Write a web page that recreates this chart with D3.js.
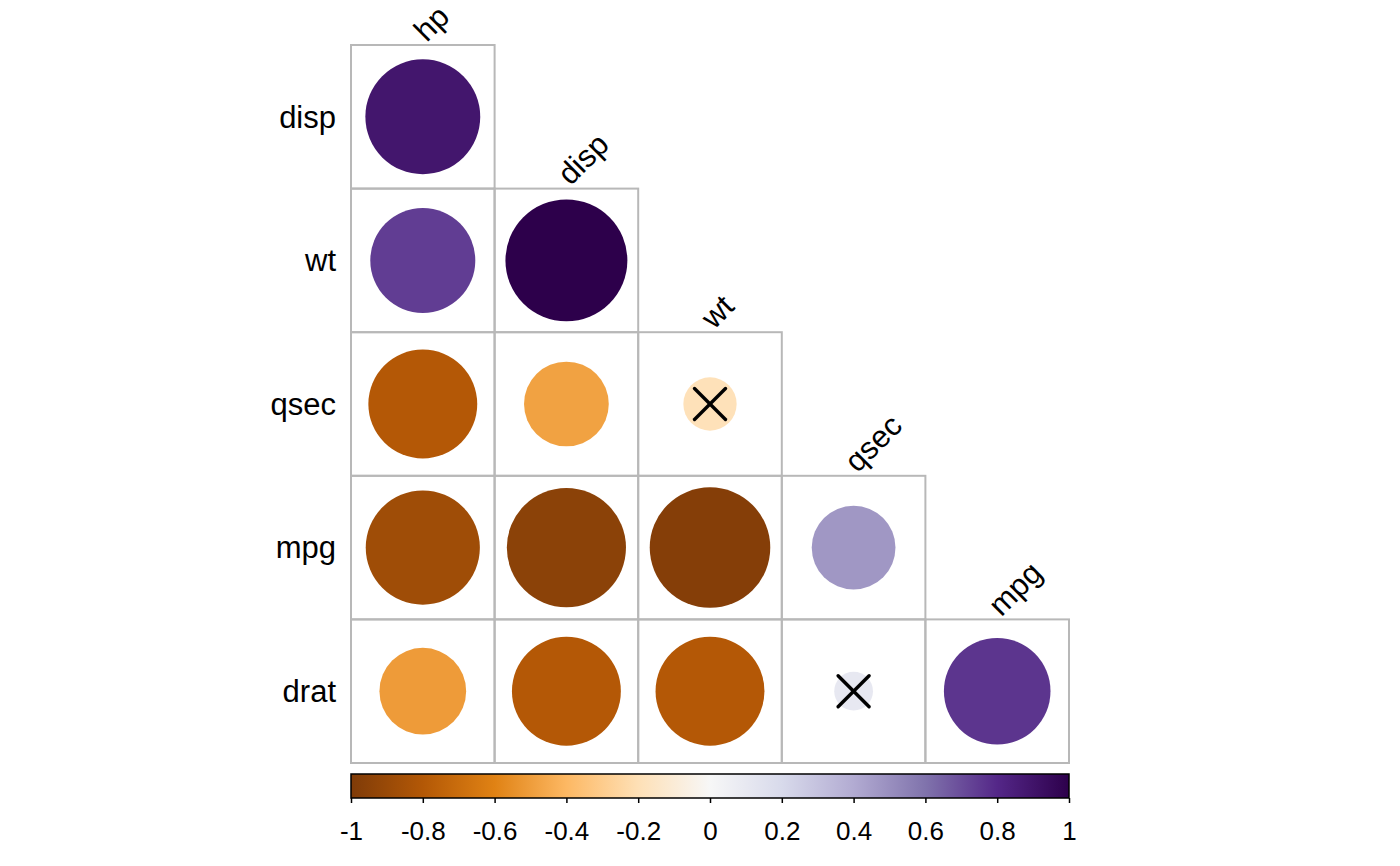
<!DOCTYPE html>
<html>
<head>
<meta charset="utf-8">
<script src="https://cdn.jsdelivr.net/npm/d3@7"></script>
<style>
  html, body { margin: 0; padding: 0; background: #fff; }
  svg { display: block; }
  text { font-family: "Liberation Sans", Arial, sans-serif; fill: #000; }
</style>
</head>
<body>
<svg id="chart" width="1400" height="866"></svg>
<script>
// ---- data ----
const rowVars = ["disp", "wt", "qsec", "mpg", "drat"];
const colVars = ["hp", "disp", "wt", "qsec", "mpg"];
// lower-triangle correlations, one list per row
const corrDisp = [0.79];
const corrWt   = [0.66, 0.89];
const corrQsec = [-0.71, -0.43, -0.17];
const corrMpg  = [-0.78, -0.85, -0.87, 0.42];
const corrDrat = [-0.45, -0.71, -0.71, 0.09, 0.68];
const corrRows = [corrDisp, corrWt, corrQsec, corrMpg, corrDrat];
// non-significant cells [row, col]
const insignificant = [["qsec", "wt"], ["drat", "qsec"]];
const legendTicks = [-1, -0.8, -0.6, -0.4, -0.2, 0, 0.2, 0.4, 0.6, 0.8, 1];
const paletteColors = ["#7F3B08", "#B35806", "#E08214", "#FDB863", "#FEE0B6", "#F7F7F7",
                       "#D8DAEB", "#B2ABD2", "#8073AC", "#542788", "#2D004B"];

// ---- layout ----
const svg = d3.select("#chart");
const gLeft = 351, gTop = 45, cell = 143.6;
const n = colVars.length;

const x = d3.scaleBand().domain(colVars).range([gLeft, gLeft + n * cell]);
const y = d3.scaleBand().domain(rowVars).range([gTop, gTop + n * cell]);
// fill colours are scaled to the largest absolute correlation
const maxAbs = d3.max(corrRows.flat(), v => Math.abs(v));
const color = d3.scaleLinear()
  .domain(legendTicks.map(t => t * maxAbs))
  .range(paletteColors).interpolate(d3.interpolateRgb).clamp(true);
const legendColor = d3.scaleLinear().domain(legendTicks).range(paletteColors);
const rScale = d3.scaleSqrt().domain([0, 1]).range([0, cell * 0.45]);

const cells = [];
rowVars.forEach((rv, i) => {
  corrRows[i].forEach((v, j) => {
    cells.push({ row: rv, col: colVars[j], value: v });
  });
});

// grid
svg.append("g").selectAll("rect").data(cells).join("rect")
  .attr("x", d => x(d.col)).attr("y", d => y(d.row))
  .attr("width", x.bandwidth()).attr("height", y.bandwidth())
  .attr("fill", "none").attr("stroke", "#B8B8B8").attr("stroke-width", 2);

// circles
svg.append("g").selectAll("circle").data(cells).join("circle")
  .attr("cx", d => x(d.col) + x.bandwidth() / 2)
  .attr("cy", d => y(d.row) + y.bandwidth() / 2)
  .attr("r", d => rScale(Math.abs(d.value)))
  .attr("fill", d => color(d.value));

// crosses
const cs = 15.5;
const crossG = svg.append("g").selectAll("g").data(insignificant).join("g")
  .attr("transform", d => `translate(${x(d[1]) + x.bandwidth() / 2},${y(d[0]) + y.bandwidth() / 2})`);
crossG.append("line").attr("x1", -cs).attr("y1", -cs).attr("x2", cs).attr("y2", cs);
crossG.append("line").attr("x1", -cs).attr("y1", cs).attr("x2", cs).attr("y2", -cs);
crossG.selectAll("line").attr("stroke", "#000").attr("stroke-width", 3.4).attr("stroke-linecap", "round");

// row labels
svg.append("g").selectAll("text").data(rowVars).join("text")
  .attr("x", gLeft - 15)
  .attr("y", d => y(d) + y.bandwidth() / 2)
  .attr("dy", "0.35em")
  .attr("text-anchor", "end")
  .attr("font-size", 31)
  .text(d => d);

// column labels (rotated, above the diagonal cell)
svg.append("g").selectAll("text").data(colVars).join("text")
  .attr("transform", (d, i) => `translate(${x(d) + x.bandwidth() / 2 + 4},${y(rowVars[i]) - 2}) rotate(-45)`)
  .attr("text-anchor", "start")
  .attr("font-size", 31)
  .text(d => d);

// ---- colour legend ----
const lx = d3.scaleLinear().domain([-1, 1]).range([gLeft, gLeft + n * cell]);
const lTop = 774, lH = 24;
const defs = svg.append("defs");
const grad = defs.append("linearGradient").attr("id", "lg").attr("x1", "0%").attr("x2", "100%");
legendTicks.forEach((t, i) => {
  grad.append("stop").attr("offset", (i / (legendTicks.length - 1) * 100) + "%").attr("stop-color", legendColor(t));
});
svg.append("rect").attr("x", lx(-1)).attr("y", lTop).attr("width", lx(1) - lx(-1)).attr("height", lH)
  .attr("fill", "url(#lg)").attr("stroke", "#000").attr("stroke-width", 1.5);

const axis = d3.axisBottom(lx).tickValues(legendTicks).tickSize(5).tickPadding(19)
  .tickFormat(d => String(Math.round(d * 10) / 10));
const ag = svg.append("g").attr("transform", `translate(0,${lTop + lH})`).call(axis);
ag.select(".domain").remove();
ag.selectAll(".tick line").attr("stroke", "#000").attr("stroke-width", 1.5);
ag.selectAll(".tick text").attr("font-size", 26).attr("font-family", "Liberation Sans, Arial, sans-serif").attr("fill", "#000");
</script>
</body>
</html>
